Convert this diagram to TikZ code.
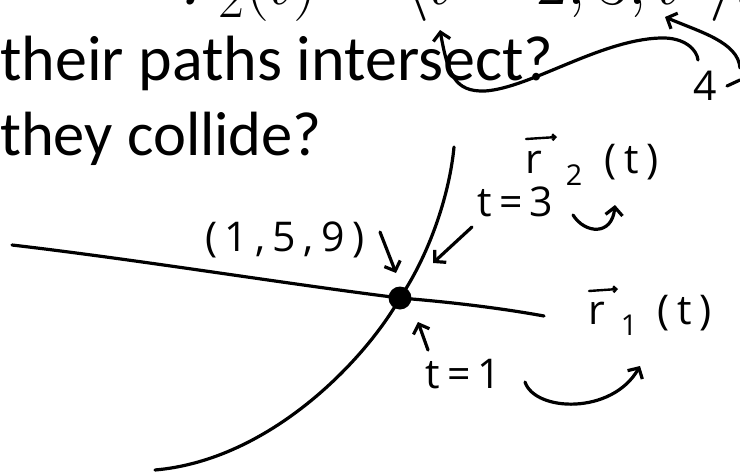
\documentclass[tikz,border=0pt]{standalone}
\usepackage{amsmath}
\usepackage{fontspec}
\setmainfont{Carlito}
\newfontfamily\handfont[LetterSpace=18]{Open Sans}
\usetikzlibrary{arrows.meta,positioning}

\tikzset{
  pen/.style={line width=3.2pt, line cap=round, line join=round},
  barb/.style={pen, -{Straight Barb[length=8pt,width=17pt]}},
  tick/.style={line width=2.4pt, line cap=round, -{Straight Barb[length=3pt,width=6pt]}},
  slide/.style={inner sep=0pt, anchor=base west, font=\fontsize{64}{70}\selectfont},
  hand/.style={inner sep=0pt, anchor=base west, font=\handfont\fontsize{41}{44}\selectfont},
}

\begin{document}
\begin{tikzpicture}[x=1pt,y=-1pt]
	\useasboundingbox (0,0) rectangle (740,474);
	
	% slide text (first line cut by the top edge)
	\node[inner sep=0pt, anchor=base west] (eqtwo) at (180,4) {\scalebox{2.72}{\Huge $\boldsymbol{r}_2(t)=\langle t-2,3,t^2\rangle$.}};
	\node[slide] (qpaths) at (0,80) {their paths intersect?};
	\node[slide, font=\fontsize{62.5}{70}\selectfont] (qcollide) at (0,155) {they collide?};
	
	% common point of both paths
	\node[circle,fill=black,inner sep=0pt,minimum size=23pt] (P) at (400,298) {};
	
	% path of r_1
	\draw[pen] (12,245) .. controls (140,260) and (280,283) .. (P.center);
	\draw[pen] (P.center) .. controls (450,302) and (500,308) .. (544,316);
	% path of r_2
	\draw[pen] (454,147) .. controls (450,190) and (432,250) .. (P.center);
	\draw[pen] (P.center) .. controls (365,360) and (270,460) .. (155,470);
	
	% handwritten labels
	\node[hand] (pt) at (205,251) {(1,5,9)};
	\node[hand] (tthree) at (477,216) {t=3};
	\node[hand] (tone) at (425,388) {t=1};
	\node[hand] (rtwo) at (525,173) {r\hspace{24pt}\textsubscript{2}\hspace{22pt}(t)};
	\node[hand] (rone) at (588,324) {r\hspace{16pt}\textsubscript{1}\hspace{20pt}(t)};
	\node[hand] (four) at (693,100) {4};
	\draw[tick] (526,139) -- (557,137);
	\draw[tick] (589,291) -- (618,289);
	
	\coordinate (pt tip) at (396,273);
	\coordinate (tthree tip) at (433,263);
	\coordinate (tone tip) at (418,322);
	\draw[barb] (380,232) -- (pt tip);
	\draw[barb] (472,227) -- (tthree tip);
	\draw[barb] (428,350) -- (tone tip);
	
	% direction of motion
	\draw[barb] (573,215) .. controls (585,234) and (612,236) .. (615,205);
	\draw[barb] (525,382) .. controls (535,412) and (612,415) .. (640,366);
	
	% marks on the first line
	\draw[pen,{Straight Barb[length=8pt,width=17pt]}-] (440,30) .. controls (448,75) and (455,92) .. (485,91) .. controls (530,88) and (600,40) .. (660,38) .. controls (685,37) and (697,50) .. (698,60);
	\draw[barb] (740,68) .. controls (738,42) and (700,32) .. (665,17);
	\draw[pen] (727,86) -- (740,80);
\end{tikzpicture}
\end{document}
